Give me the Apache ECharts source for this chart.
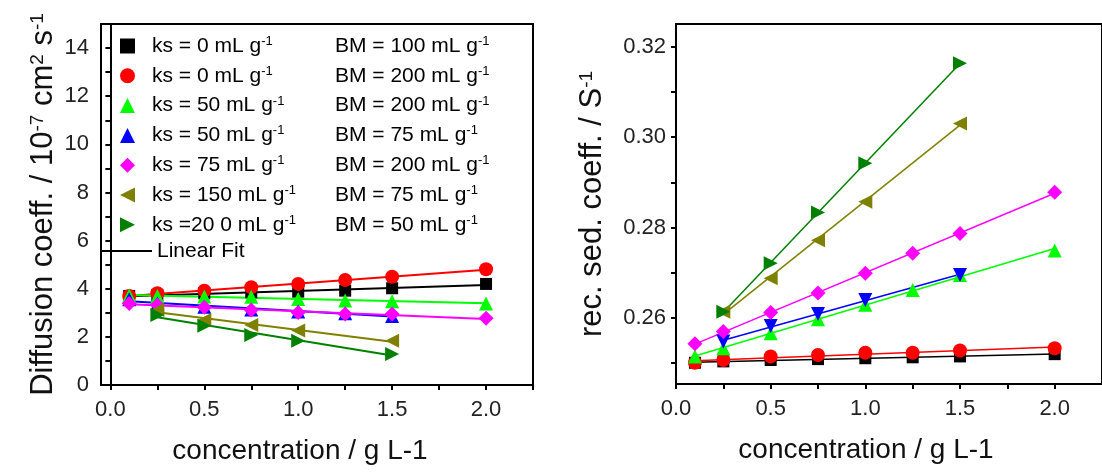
<!DOCTYPE html>
<html><head><meta charset="utf-8">
<script src="https://cdn.jsdelivr.net/npm/echarts@6/dist/echarts.min.js"></script>
<style>html,body{margin:0;padding:0;background:#fff}#c{width:1102px;height:474px}</style>
</head><body><div id="c"></div>
<script>
// ---------- data ----------
const xFull = [0.1, 0.25, 0.5, 0.75, 1.0, 1.25, 1.5, 2.0];
const xTo15 = [0.1, 0.25, 0.5, 0.75, 1.0, 1.25, 1.5];
const xFrom25 = [0.25, 0.5, 0.75, 1.0, 1.5];

const seriesKeys = ['s1', 's2', 's3', 's4', 's5', 's6', 's7'];
const ksLabels = ['ks = 0 mL g', 'ks = 0 mL g', 'ks = 50 mL g', 'ks = 50 mL g', 'ks = 75 mL g', 'ks = 150 mL g', 'ks =20 0 mL g'];
const bmLabels = ['BM = 100 mL g', 'BM = 200 mL g', 'BM = 200 mL g', 'BM = 75 mL g', 'BM = 200 mL g', 'BM = 75 mL g', 'BM = 50 mL g'];
const colors = ['#000000', '#ff0000', '#00ff00', '#0000ff', '#ff00ff', '#808000', '#008000'];

// Diffusion coefficient (left)
const diffX = [xFull, xFull, xFull, xTo15, xFull, xFrom25, xFrom25];
const diffBlack   = [3.70, 3.74, 3.81, 3.85, 3.88, 3.92, 4.02, 4.20];
const diffRed     = [3.70, 3.81, 3.92, 4.06, 4.20, 4.36, 4.50, 4.81];
const diffLime    = [3.72, 3.70, 3.68, 3.67, 3.57, 3.51, 3.48, 3.39];
const diffBlue    = [3.56, 3.39, 3.25, 3.14, 3.05, 2.98, 2.87];
const diffMagenta = [3.39, 3.32, 3.23, 3.12, 3.01, 2.95, 2.95, 2.77];
const diffOlive   = [3.12, 2.70, 2.49, 2.26, 1.84];
const diffDkGreen = [2.91, 2.46, 2.08, 1.84, 1.29];
const diffY = [diffBlack, diffRed, diffLime, diffBlue, diffMagenta, diffOlive, diffDkGreen];

// reciprocal sedimentation coefficient (right)
const xBlueR = [0.25, 0.5, 0.75, 1.0, 1.5];
const sedX = [xFull, xFull, xFull, xBlueR, xFull, xFrom25, xFrom25];
const sedBlack   = [0.2501, 0.2504, 0.2507, 0.2509, 0.2511, 0.2513, 0.2515, 0.2520];
const sedRed     = [0.2501, 0.2507, 0.2515, 0.2518, 0.2523, 0.2523, 0.2528, 0.2533];
const sedLime    = [0.2515, 0.2533, 0.2566, 0.2597, 0.2629, 0.2662, 0.2695, 0.2749];
const sedBlue    = [0.2548, 0.2582, 0.2609, 0.2640, 0.2695];
const sedMagenta = [0.2543, 0.2570, 0.2612, 0.2655, 0.2699, 0.2743, 0.2787, 0.2878];
const sedOlive   = [0.2614, 0.2688, 0.2772, 0.2857, 0.3030];
const sedDkGreen = [0.2614, 0.2721, 0.2833, 0.2942, 0.3163];
const sedY = [sedBlack, sedRed, sedLime, sedBlue, sedMagenta, sedOlive, sedDkGreen];

// ticks
const xTicksLeft = [0, 0.25, 0.5, 0.75, 1.0, 1.25, 1.5, 1.75, 2.0, 2.25];
const xTicksRight = [0, 0.25, 0.5, 0.75, 1.0, 1.25, 1.5, 1.75, 2.0];
const xLabels = [0, 0.5, 1.0, 1.5, 2.0];
const yTicksLeft = [0,1,2,3,4,5,6,7,8,9,10,11,12,13,14,15];
const yLabelsLeft = [0,2,4,6,8,10,12,14];
const yTicksRight = [0.25,0.26,0.27,0.28,0.29,0.30,0.31,0.32];
const yLabelsRight = [0.26,0.28,0.30,0.32];

// ---------- chart ----------
const FONT = '"Liberation Sans", Arial, sans-serif';
const TRI_LEFT = 'path://M10,0L10,10L0,5Z';
const TRI_RIGHT = 'path://M0,0L10,5L0,10Z';
const TRI_DOWN = 'path://M0,0L10,0L5,10Z';
const symLeft = ['rect', 'circle', 'triangle', 'triangle', 'diamond', TRI_LEFT, TRI_RIGHT];
const symRight = ['rect', 'circle', 'triangle', TRI_DOWN, 'diamond', TRI_LEFT, TRI_RIGHT];
const symSize = [12, 14, 14, 14, 15, 14, 14];

function linFit(xs, ys) {
  const n = xs.length;
  let sx = 0, sy = 0, sxx = 0, sxy = 0;
  for (let i = 0; i < n; i++) { sx += xs[i]; sy += ys[i]; sxx += xs[i] * xs[i]; sxy += xs[i] * ys[i]; }
  const b = (n * sxy - sx * sy) / (n * sxx - sx * sx);
  const a = (sy - b * sx) / n;
  const x0 = Math.min(...xs), x1 = Math.max(...xs);
  return [[x0, a + b * x0], [x1, a + b * x1]];
}
const pairs = (xs, ys) => xs.map((x, i) => [x, ys[i]]);

const series = [];
[[diffX, diffY, symLeft, 0, 2], [sedX, sedY, symRight, 1, 1.5]].forEach(([X, Y, syms, gi, lw]) => {
  seriesKeys.forEach((k, i) => {
    series.push({
      type: 'line', name: 'fit' + gi + i, xAxisIndex: gi, yAxisIndex: gi,
      data: linFit(X[i], Y[i]), showSymbol: false, symbol: 'none', silent: true,
      lineStyle: { color: colors[i], width: lw }, z: 2, animation: false
    });
  });
  seriesKeys.forEach((k, i) => {
    series.push({
      type: 'scatter', name: k, xAxisIndex: gi, yAxisIndex: gi,
      data: pairs(X[i], Y[i]), symbol: syms[i], symbolSize: symSize[i],
      itemStyle: { color: colors[i], opacity: 1 }, z: 3 + i, animation: false
    });
  });
});
series.push({ type: 'line', name: 'Linear Fit', data: [], symbol: 'none', xAxisIndex: 0, yAxisIndex: 0,
  lineStyle: { color: '#000', width: 2 }, itemStyle: { color: '#000' } });

// legend two-column layout via measured widths
const LFS = 21, SFS = 13, COL2 = 183;
const ctx = document.createElement('canvas').getContext('2d');
function tw(t, fs) { ctx.font = fs + 'px ' + FONT; return ctx.measureText(t).width; }
const rich = {
  g: { width: 12, fontSize: LFS, lineHeight: 22 },
  k: { fontSize: LFS, fontFamily: FONT, color: '#000', lineHeight: 22 },
  s: { fontSize: SFS, fontFamily: FONT, color: '#000', verticalAlign: 'top', lineHeight: 22 },
};
ksLabels.forEach((t, i) => {
  rich['p' + i] = { width: Math.max(1, COL2 - tw(t, LFS) - tw('-1', SFS)), lineHeight: 22, fontSize: LFS };
});
const legendIcons = ['rect', 'circle', 'triangle', 'triangle', 'diamond', TRI_LEFT, TRI_RIGHT];

const axisCommon = {
  axisLine: { lineStyle: { color: '#000', width: 2 } },
  axisTick: { lineStyle: { color: '#000', width: 2 }, length: 5, inside: false },
  axisLabel: { color: '#222', fontSize: 22, fontFamily: FONT },
  splitLine: { show: false },
  nameTextStyle: { color: '#111', fontSize: 28, fontFamily: FONT },
};

const option = {
  animation: false,
  backgroundColor: '#fff',
  grid: [
    { left: 101, top: 24, width: 432, height: 361, show: true, borderColor: '#000', borderWidth: 2 },
    { left: 676, top: 24, width: 434, height: 360, show: true, borderColor: '#000', borderWidth: 2 },
  ],
  legend: [
    {
      orient: 'vertical', left: 120, top: 35, padding: 0, itemGap: 8.3,
      itemWidth: 15, itemHeight: 15, selectedMode: false,
      data: seriesKeys.map((k, i) => ({ name: k, icon: legendIcons[i] })),
      formatter: (name) => {
        const i = seriesKeys.indexOf(name);
        return '{g| }{k|' + ksLabels[i] + '}{s|-1}{p' + i + '| }{k|' + bmLabels[i] + '}{s|-1}';
      },
      textStyle: { rich: rich, fontSize: LFS, fontFamily: FONT }
    },
    {
      orient: 'vertical', left: 100, top: 240, padding: 0, itemWidth: 52, itemHeight: 2,
      selectedMode: false, data: [{ name: 'Linear Fit', icon: 'rect' }],
      textStyle: { fontSize: LFS, fontFamily: FONT, color: '#000', lineHeight: 22 }
    }
  ],
  xAxis: [
    Object.assign({}, axisCommon, {
      type: 'value', gridIndex: 0, min: -0.05, max: 2.25,
      axisTick: Object.assign({}, axisCommon.axisTick, { customValues: xTicksLeft }),
      axisLabel: Object.assign({}, axisCommon.axisLabel, { customValues: xLabels, margin: 14, formatter: v => v.toFixed(1) }),
      name: 'concentration / g L-1', nameLocation: 'middle', nameGap: 52,
      nameTextStyle: Object.assign({}, axisCommon.nameTextStyle, { padding: [0, 34, 0, 0] }),
    }),
    Object.assign({}, axisCommon, {
      type: 'value', gridIndex: 1, min: 0, max: 2.25,
      axisTick: Object.assign({}, axisCommon.axisTick, { customValues: xTicksRight }),
      axisLabel: Object.assign({}, axisCommon.axisLabel, { customValues: xLabels, margin: 14, formatter: v => v.toFixed(1) }),
      name: 'concentration / g L-1', nameLocation: 'middle', nameGap: 52,
      nameTextStyle: Object.assign({}, axisCommon.nameTextStyle, { padding: [0, 46, 0, 0] }),
    }),
  ],
  yAxis: [
    Object.assign({}, axisCommon, {
      type: 'value', gridIndex: 0, min: 0, max: 15,
      axisTick: Object.assign({}, axisCommon.axisTick, { customValues: yTicksLeft }),
      axisLabel: Object.assign({}, axisCommon.axisLabel, { customValues: yLabelsLeft, margin: 12 }),
      name: '{m|Diffusion coeff. / 10}{s|-7}{m| cm}{s|2}{m| s}{s|-1}', nameLocation: 'middle', nameGap: 42,
      nameTextStyle: { color: '#111', fontSize: 31, fontFamily: FONT,
        rich: { m: { fontSize: 31, fontFamily: FONT, color: '#111' }, s: { fontSize: 19, fontFamily: FONT, color: '#111', verticalAlign: 'top' } } },
    }),
    Object.assign({}, axisCommon, {
      type: 'value', gridIndex: 1, min: 0.2454, max: 0.325,
      axisTick: Object.assign({}, axisCommon.axisTick, { customValues: yTicksRight }),
      axisLabel: Object.assign({}, axisCommon.axisLabel, { customValues: yLabelsRight, margin: 10, formatter: v => v.toFixed(2) }),
      name: '{m|rec. sed. coeff. / S}{s|-1}', nameLocation: 'middle', nameGap: 68,
      nameTextStyle: { color: '#111', fontSize: 31, fontFamily: FONT,
        rich: { m: { fontSize: 31, fontFamily: FONT, color: '#111' }, s: { fontSize: 19, fontFamily: FONT, color: '#111', verticalAlign: 'top' } } },
    }),
  ],
  series: series
};

const chart = echarts.init(document.getElementById('c'), null, { renderer: 'canvas' });
chart.setOption(option);
</script>
</body></html>
